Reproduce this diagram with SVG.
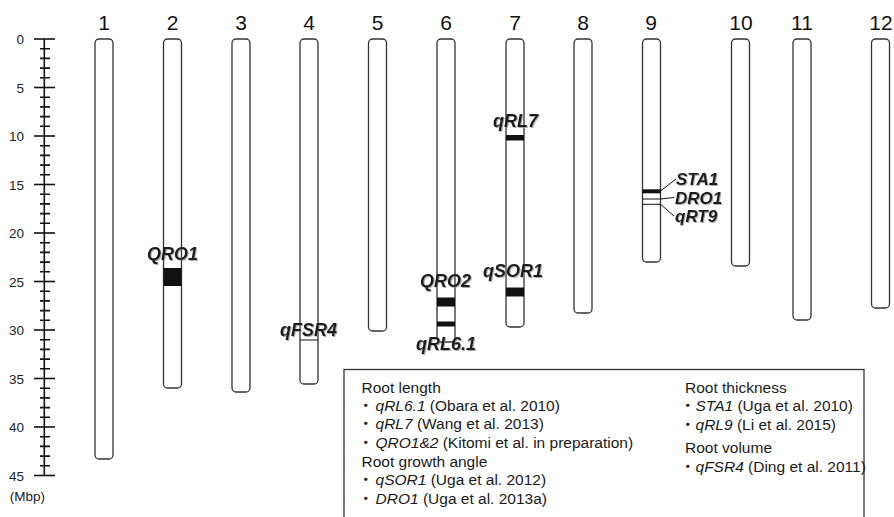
<svg xmlns="http://www.w3.org/2000/svg" width="894" height="517" viewBox="0 0 894 517">
  <style>
    .chr { fill: #ffffff; stroke: #333333; stroke-width: 1.3; }
    .band { fill: #111111; }
    .thin { stroke: #111111; stroke-width: 1; fill: none; }
    .num { font-family: "Liberation Sans", Arial, sans-serif; font-size: 21px; fill: #111111; text-anchor: middle; }
    .axis-lbl { font-family: "Liberation Sans", Arial, sans-serif; font-size: 13.5px; fill: #222222; text-anchor: end; }
    .axis { stroke: #111111; stroke-width: 1.6; }
    .gene { font-family: "Liberation Sans", Arial, sans-serif; font-size: 18px; font-weight: bold; font-style: italic; fill: #1a1a1a; filter: url(#soft); }
    .small { font-size: 17px; }
    .leg { font-family: "Liberation Sans", "Noto Sans CJK JP", Arial, sans-serif; font-size: 15.5px; fill: #1a1a1a; }
    .it { font-style: italic; }
    .box { fill: none; stroke: #333333; stroke-width: 1.3; }
  </style>
  <defs>
    <filter id="soft" x="-10%" y="-20%" width="130%" height="150%">
      <feDropShadow dx="1" dy="1" stdDeviation="0.7" flood-color="#888888" flood-opacity="0.7"/>
    </filter>
  </defs>

  <!-- Mbp scale -->
  <g id="scale">
    <line class="axis" x1="44.3" y1="39" x2="44.3" y2="475.5"/>
    <g class="axis">
      <!-- major ticks every 5 Mbp -->
      <line x1="34" y1="39" x2="55" y2="39"/>
      <line x1="34" y1="87.5" x2="55" y2="87.5"/>
      <line x1="34" y1="136" x2="55" y2="136"/>
      <line x1="34" y1="184.5" x2="55" y2="184.5"/>
      <line x1="34" y1="233" x2="55" y2="233"/>
      <line x1="34" y1="281.5" x2="55" y2="281.5"/>
      <line x1="34" y1="330" x2="55" y2="330"/>
      <line x1="34" y1="378.5" x2="55" y2="378.5"/>
      <line x1="34" y1="427" x2="55" y2="427"/>
      <line x1="34" y1="475.5" x2="55" y2="475.5"/>
    </g>
    <path class="axis" d="M40 48.7H50M40 58.4H50M40 68.1H50M40 77.8H50
      M40 97.2H50M40 106.9H50M40 116.6H50M40 126.3H50
      M40 145.7H50M40 155.4H50M40 165.1H50M40 174.8H50
      M40 194.2H50M40 203.9H50M40 213.6H50M40 223.3H50
      M40 242.7H50M40 252.4H50M40 262.1H50M40 271.8H50
      M40 291.2H50M40 300.9H50M40 310.6H50M40 320.3H50
      M40 339.7H50M40 349.4H50M40 359.1H50M40 368.8H50
      M40 388.2H50M40 397.9H50M40 407.6H50M40 417.3H50
      M40 436.7H50M40 446.4H50M40 456.1H50M40 465.8H50"/>
    <text class="axis-lbl" x="24" y="44">0</text>
    <text class="axis-lbl" x="24" y="92.5">5</text>
    <text class="axis-lbl" x="24" y="141">10</text>
    <text class="axis-lbl" x="24" y="189.5">15</text>
    <text class="axis-lbl" x="24" y="238">20</text>
    <text class="axis-lbl" x="24" y="286.5">25</text>
    <text class="axis-lbl" x="24" y="335">30</text>
    <text class="axis-lbl" x="24" y="383.5">35</text>
    <text class="axis-lbl" x="24" y="432">40</text>
    <text class="axis-lbl" x="24" y="480.5">45</text>
    <text class="axis-lbl" x="45" y="501">(Mbp)</text>
  </g>

  <!-- chromosomes -->
  <g id="chr1">
    <text class="num" x="104" y="30">1</text>
    <rect class="chr" x="95" y="39" width="18" height="420" rx="4"/>
  </g>
  <g id="chr2">
    <text class="num" x="172.5" y="30">2</text>
    <rect class="chr" x="163.5" y="39" width="18" height="349" rx="4"/>
    <rect class="band" x="163.5" y="268" width="18" height="18"/>
    <text class="gene" x="147" y="260">QRO1</text>
  </g>
  <g id="chr3">
    <text class="num" x="241" y="30">3</text>
    <rect class="chr" x="232" y="39" width="18" height="353" rx="4"/>
  </g>
  <g id="chr4">
    <text class="num" x="309" y="30">4</text>
    <rect class="chr" x="300" y="39" width="18" height="345" rx="4"/>
    <line class="thin" x1="300" y1="340" x2="318" y2="340"/>
    <text class="gene" x="280" y="336">qFSR4</text>
  </g>
  <g id="chr5">
    <text class="num" x="377.5" y="30">5</text>
    <rect class="chr" x="368.5" y="39" width="18" height="292" rx="4"/>
  </g>
  <g id="chr6">
    <text class="num" x="446" y="30">6</text>
    <rect class="chr" x="437" y="39" width="18" height="303" rx="4"/>
    <rect class="band" x="437" y="297.5" width="18" height="9"/>
    <rect class="band" x="437" y="321.5" width="18" height="5"/>
    <text class="gene" x="420" y="286.5">QRO2</text>
    <text class="gene" x="416" y="350">qRL6.1</text>
  </g>
  <g id="chr7">
    <text class="num" x="515" y="30">7</text>
    <rect class="chr" x="506" y="39" width="18" height="288" rx="4"/>
    <rect class="band" x="506" y="135" width="18" height="5.5"/>
    <rect class="band" x="506" y="287.5" width="18" height="9"/>
    <text class="gene" x="493" y="126.5">qRL7</text>
    <text class="gene" x="483" y="276.5">qSOR1</text>
  </g>
  <g id="chr8">
    <text class="num" x="583" y="30">8</text>
    <rect class="chr" x="574" y="39" width="18" height="274" rx="4"/>
  </g>
  <g id="chr9">
    <text class="num" x="651" y="30">9</text>
    <rect class="chr" x="642.5" y="39" width="18" height="223" rx="4"/>
    <rect class="band" x="642.5" y="189.3" width="18" height="4"/>
    <line class="thin" x1="642.5" y1="199" x2="660.5" y2="199"/>
    <line class="thin" x1="642.5" y1="204.3" x2="660.5" y2="204.3"/>
    <text class="gene small" x="676" y="185">STA1</text>
    <text class="gene small" x="675" y="203.5">DRO1</text>
    <text class="gene small" x="675" y="221.5">qRT9</text>
  </g>
  <g id="chr10">
    <text class="num" x="741" y="30">10</text>
    <rect class="chr" x="731.5" y="39" width="18" height="227" rx="4"/>
  </g>
  <g id="chr11">
    <text class="num" x="802" y="30">11</text>
    <rect class="chr" x="793" y="39" width="18" height="281" rx="4"/>
  </g>
  <g id="chr12">
    <text class="num" x="881" y="30">12</text>
    <rect class="chr" x="871.5" y="39" width="18" height="269" rx="4"/>
  </g>

  <!-- leader lines from chromosome 9 to its labels -->
  <g id="connectors" class="thin">
    <line x1="660.5" y1="191" x2="676" y2="179"/>
    <line x1="660.5" y1="199" x2="674" y2="197.5"/>
    <line x1="660.5" y1="204.3" x2="674" y2="216"/>
  </g>

  <!-- legend -->
  <g id="legend">
    <rect class="box" x="344" y="369.5" width="520" height="160"/>
    <text class="leg" x="361.5" y="393">Root length</text>
    <text class="leg" x="358" y="410.5">・<tspan class="it" dx="2">qRL6.1</tspan> (Obara et al. 2010)</text>
    <text class="leg" x="358" y="429">・<tspan class="it" dx="2">qRL7</tspan> (Wang et al. 2013)</text>
    <text class="leg" x="358" y="447.5">・<tspan class="it" dx="2">QRO1&amp;2</tspan> (Kitomi et al. in preparation)</text>
    <text class="leg" x="361.5" y="467">Root growth angle</text>
    <text class="leg" x="358" y="485">・<tspan class="it" dx="2">qSOR1</tspan> (Uga et al. 2012)</text>
    <text class="leg" x="358" y="503.5">・<tspan class="it" dx="2">DRO1</tspan> (Uga et al. 2013a)</text>

    <text class="leg" x="685" y="393">Root thickness</text>
    <text class="leg" x="680" y="411">・<tspan class="it">STA1</tspan> (Uga et al. 2010)</text>
    <text class="leg" x="680" y="429.5">・<tspan class="it">qRL9</tspan> (Li et al. 2015)</text>
    <text class="leg" x="685" y="453">Root volume</text>
    <text class="leg" x="680" y="471.5">・<tspan class="it">qFSR4</tspan> (Ding et al. 2011)</text>
  </g>
</svg>
